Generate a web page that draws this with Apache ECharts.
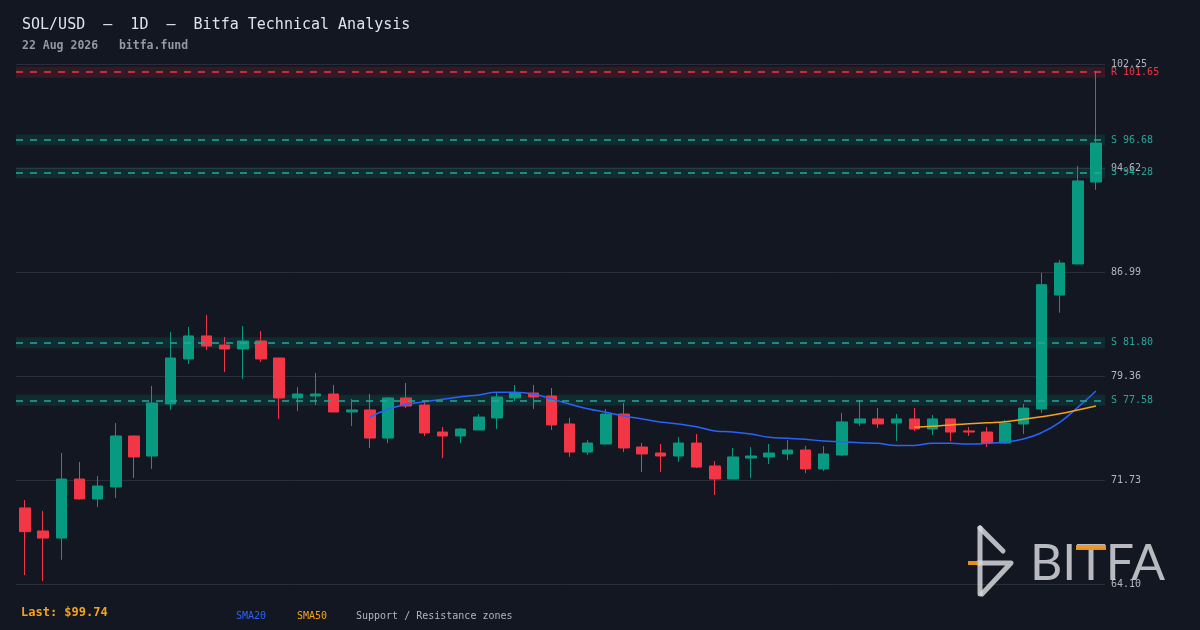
<!DOCTYPE html>
<html>
<head>
<meta charset="utf-8">
<script src="https://cdn.jsdelivr.net/npm/echarts@6/dist/echarts.min.js"></script>
<style>
html,body{margin:0;padding:0;background:#131722;}
#chart{width:1200px;height:630px;}
</style>
</head>
<body>
<div id="chart"></div>
<script>
const categories = ['2026-06-24','2026-06-25','2026-06-26','2026-06-27','2026-06-28','2026-06-29','2026-06-30',
'2026-07-01','2026-07-02','2026-07-03','2026-07-04','2026-07-05','2026-07-06','2026-07-07','2026-07-08','2026-07-09','2026-07-10',
'2026-07-11','2026-07-12','2026-07-13','2026-07-14','2026-07-15','2026-07-16','2026-07-17','2026-07-18','2026-07-19','2026-07-20',
'2026-07-21','2026-07-22','2026-07-23','2026-07-24','2026-07-25','2026-07-26','2026-07-27','2026-07-28','2026-07-29','2026-07-30','2026-07-31',
'2026-08-01','2026-08-02','2026-08-03','2026-08-04','2026-08-05','2026-08-06','2026-08-07','2026-08-08','2026-08-09','2026-08-10',
'2026-08-11','2026-08-12','2026-08-13','2026-08-14','2026-08-15','2026-08-16','2026-08-17','2026-08-18','2026-08-19','2026-08-20','2026-08-21','2026-08-22'];

const opens  = [69.68,67.99,67.47,71.80,70.34,71.22,74.96,73.49,77.31,80.61,82.30,81.63,81.34,81.93,80.68,77.75,77.89,78.04,76.72,76.87,
                74.81,77.75,77.23,75.25,74.96,75.40,76.28,77.75,78.11,77.89,75.84,73.78,74.37,76.57,74.15,73.71,73.49,74.44,72.76,71.80,
                73.34,73.42,73.64,73.93,72.54,73.56,75.91,76.21,75.91,76.21,75.47,76.21,75.33,75.25,74.44,75.84,76.94,85.30,87.58,93.59];
const closes = [67.94,67.47,71.80,70.34,71.29,74.96,73.42,77.38,80.68,82.30,81.56,81.34,81.93,80.61,77.75,78.04,78.04,76.72,76.87,74.81,
                77.75,77.16,75.18,74.96,75.47,76.35,77.82,78.11,77.82,75.77,73.78,74.44,76.57,74.08,73.64,73.49,74.44,72.68,71.80,73.42,
                73.49,73.71,73.93,72.54,73.64,75.99,76.21,75.84,76.21,75.47,76.21,75.25,75.25,74.44,75.91,77.01,86.06,87.65,93.67,96.45];
const lows   = [64.76,64.32,65.88,70.30,69.75,70.41,71.88,72.54,76.87,80.24,81.27,79.65,79.14,80.39,76.21,76.79,77.23,76.70,75.69,74.08,
                74.44,77.01,74.96,73.34,74.44,75.40,75.47,77.53,76.94,75.40,73.42,73.56,74.37,73.78,72.32,72.32,73.05,72.61,70.63,71.80,
                71.88,72.90,73.20,72.24,72.39,73.49,75.69,75.55,74.59,75.33,75.03,74.59,74.96,74.15,74.37,75.11,76.65,84.00,87.58,93.01];
const highs  = [70.26,69.46,73.71,73.05,72.02,75.91,75.00,78.63,82.59,82.96,83.84,82.22,83.03,82.66,80.70,78.55,79.58,78.70,77.67,78.04,
                77.82,78.85,77.45,75.62,75.55,76.57,78.11,78.70,78.70,78.48,76.28,74.66,76.94,77.38,74.44,74.37,74.88,75.11,73.12,74.08,
                74.15,74.37,74.66,74.22,74.22,76.65,77.60,77.01,76.57,77.01,76.50,76.21,75.62,75.62,76.13,77.31,86.92,87.87,94.77,101.74];

// SMA lines (null before the average starts)
const sma20 = [null,null,null,null,null,null,null,null,null,null,null,null,null,null,null,null,null,null,null,76.35,
               76.92,77.28,77.47,77.65,77.84,77.97,78.16,78.16,78.04,77.68,77.30,76.96,76.70,76.43,76.21,75.99,75.84,75.64,75.33,75.25,
               75.11,74.86,74.79,74.72,74.59,74.54,74.47,74.42,74.27,74.27,74.42,74.42,74.37,74.42,74.52,74.74,75.20,75.96,77.06,78.26];
const sma50 = [null,null,null,null,null,null,null,null,null,null,null,null,null,null,null,null,null,null,null,null,
               null,null,null,null,null,null,null,null,null,null,null,null,null,null,null,null,null,null,null,null,
               null,null,null,null,null,null,null,null,null,75.60,75.67,75.77,75.86,75.93,76.01,76.18,76.37,76.59,76.87,77.16];

const supportLevels = [96.68, 94.28, 81.80, 77.58];
const resistanceLevels = [101.65];
const zoneHalf = 0.4;

const yMin = 64.10, yMax = 102.25, yStep = 7.63;

const UP = '#089981', DOWN = '#f23645', TEAL = '#26a69a';
const MONO = '"DejaVu Sans Mono", "Liberation Mono", monospace';

const candleData = opens.map((o, i) => [o, closes[i], lows[i], highs[i]]);

const markAreaData = [];
const markLineData = [];
resistanceLevels.forEach(v => {
  markAreaData.push([{ yAxis: v - zoneHalf, itemStyle: { color: 'rgba(242,54,69,0.14)' } }, { yAxis: v + zoneHalf }]);
  markLineData.push({ yAxis: v, lineStyle: { color: DOWN }, label: { formatter: 'R ' + v.toFixed(2), color: DOWN } });
});
supportLevels.forEach(v => {
  markAreaData.push([{ yAxis: v - zoneHalf, itemStyle: { color: 'rgba(8,153,129,0.16)' } }, { yAxis: v + zoneHalf }]);
  markLineData.push({ yAxis: v, lineStyle: { color: TEAL }, label: { formatter: 'S ' + v.toFixed(2), color: TEAL } });
});

const LOGO = 'rgba(215,215,220,0.85)';
const LOGO_ACCENT = 'rgba(240,150,30,0.95)';

const chart = echarts.init(document.getElementById('chart'), null, { renderer: 'canvas' });
chart.setOption({
  backgroundColor: '#131722',
  animation: false,
  grid: { left: 16, right: 95, top: 64, bottom: 46 },
  xAxis: {
    type: 'category', data: categories, boundaryGap: true,
    axisLine: { show: false }, axisTick: { show: false }, axisLabel: { show: false }, splitLine: { show: false }
  },
  yAxis: {
    type: 'value', position: 'right', min: yMin, max: yMax, interval: yStep,
    axisLine: { show: false }, axisTick: { show: false },
    axisLabel: { color: '#b2b5be', fontFamily: MONO, fontSize: 10, margin: 6, formatter: v => v.toFixed(2) },
    splitLine: { show: true, lineStyle: { color: '#2a2e39', width: 1 } }
  },
  series: [
    {
      type: 'candlestick', data: candleData, barWidth: 11,
      itemStyle: { color: UP, color0: DOWN, borderColor: UP, borderColor0: DOWN, borderWidth: 1 },
      markArea: { silent: true, data: markAreaData },
      markLine: {
        silent: true, symbol: ['none', 'none'],
        lineStyle: { type: [7, 7], width: 1.5 },
        label: { position: 'end', fontFamily: MONO, fontSize: 10, distance: 6 },
        data: markLineData
      },
      z: 3
    },
    {
      type: 'line', data: sma20, showSymbol: false, smooth: true,
      lineStyle: { color: '#2962ff', width: 1.5 }, z: 4
    },
    {
      type: 'line', data: sma50, showSymbol: false, smooth: true,
      lineStyle: { color: '#f7a21b', width: 1.5 }, z: 4
    }
  ],
  graphic: [
    { type: 'text', left: 22, top: 18, style: { text: 'SOL/USD  –  1D  –  Bitfa Technical Analysis', fill: '#e0e3eb', font: '15px ' + MONO } },
    { type: 'text', left: 22, top: 40, style: { text: '22 Aug 2026   bitfa.fund', fill: '#9598a1', font: 'bold 11.5px ' + MONO } },
    { type: 'text', left: 21, top: 607, style: { text: 'Last: $99.74', fill: '#f7a21b', font: 'bold 12px ' + MONO } },
    { type: 'text', left: 236, top: 611, style: { text: 'SMA20', fill: '#2962ff', font: '10px ' + MONO } },
    { type: 'text', left: 297, top: 611, style: { text: 'SMA50', fill: '#f7a21b', font: '10px ' + MONO } },
    { type: 'text', left: 356, top: 611, style: { text: 'Support / Resistance zones', fill: '#b2b5be', font: '10px ' + MONO } },
    // watermark logo
    { type: 'polyline', z: 1, shape: { points: [[980, 528], [980, 594]] }, style: { stroke: LOGO, lineWidth: 5, lineCap: 'round' } },
    { type: 'polyline', z: 1, shape: { points: [[980, 528], [1003, 551]] }, style: { stroke: LOGO, lineWidth: 5, lineCap: 'round' } },
    { type: 'polyline', z: 1, shape: { points: [[978, 563], [1011, 563], [982, 594]] }, style: { stroke: LOGO, lineWidth: 5, lineCap: 'round', lineJoin: 'round' } },
    { type: 'rect', z: 1, shape: { x: 968, y: 561, width: 10, height: 4 }, style: { fill: LOGO_ACCENT } },
    { type: 'text', z: 1, x: 1030, y: 564, style: { text: 'BITFA', fill: LOGO, font: '50px Lato, "Noto Sans", sans-serif', verticalAlign: 'middle', align: 'left' } },
    { type: 'rect', z: 2, shape: { x: 1076, y: 545, width: 30, height: 5 }, style: { fill: LOGO_ACCENT } }
  ]
});
</script>
</body>
</html>
